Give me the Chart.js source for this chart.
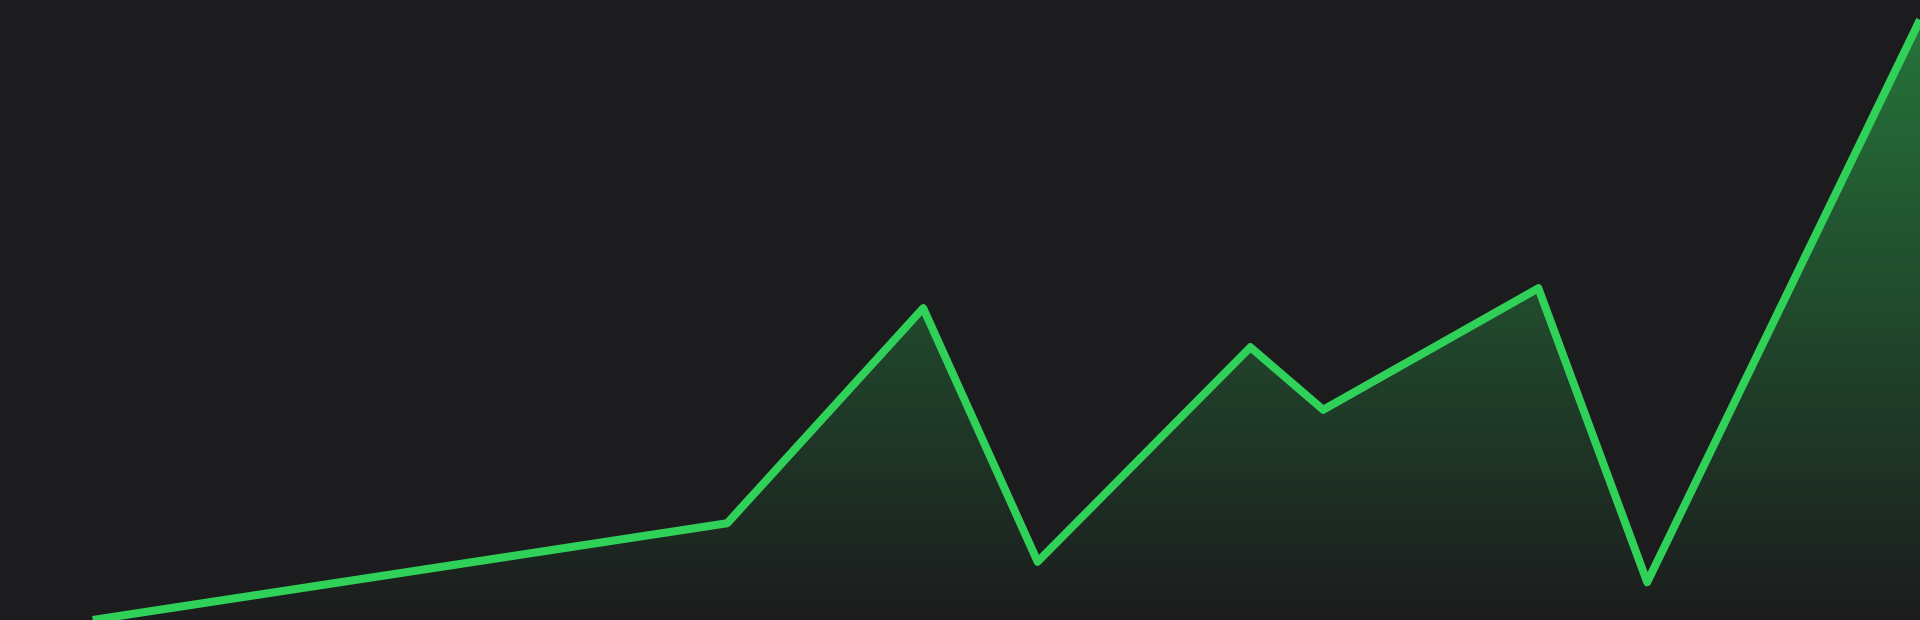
<!DOCTYPE html>
<html>
<head>
<meta charset="utf-8">
<title>Chart</title>
<script src="https://cdn.jsdelivr.net/npm/chart.js@4/dist/chart.umd.min.js"></script>
<style>
  html, body {
    margin: 0;
    padding: 0;
    background: #1c1c1e;
    overflow: hidden;
  }
  #chart-wrap {
    width: 1920px;
    height: 620px;
  }
</style>
</head>
<body>
<div id="chart-wrap">
  <canvas id="line-graph" width="1920" height="620"></canvas>
</div>
<script>
// Время измерений (часы) и значения
const times = [1.16, 9.09, 11.54, 12.97, 15.63, 16.54, 19.23, 20.59, 24];
const values = [0, 15.6, 50.3, 9.4, 44.0, 33.9, 53.5, 6.1, 96.8];

// Границы осей
const X_MIN = 0;
const X_MAX = 24;
const Y_MIN = 0;
const Y_MAX = 100;

const LINE_COLOR = "#30d158";

// Градиент заливки под линией
function makeGradient(context) {
  const chart = context.chart;
  const area = chart.chartArea;
  if (!area) {
    return "rgba(48, 209, 88, 0.3)";
  }
  const gradient = chart.ctx.createLinearGradient(0, area.top, 0, area.bottom);
  gradient.addColorStop(0, "rgba(48, 209, 88, 0.5)");
  gradient.addColorStop(1, "rgba(48, 209, 88, 0)");
  return gradient;
}

window.addEventListener("load", function () {
  const ctx = document.getElementById("line-graph").getContext("2d");
  const points = times.map((t, i) => ({ x: t, y: values[i] }));

  new Chart(ctx, {
    type: "line",
    data: {
      datasets: [
        {
          data: points,
          borderColor: LINE_COLOR,
          borderWidth: 8,
          borderJoinStyle: "round",
          backgroundColor: makeGradient,
          fill: "start",
          pointRadius: 0,
          tension: 0,
        },
      ],
    },
    options: {
      responsive: false,
      animation: false,
      devicePixelRatio: 1,
      layout: { padding: 0 },
      plugins: {
        legend: { display: false },
        tooltip: { enabled: false },
      },
      scales: {
        x: { type: "linear", min: X_MIN, max: X_MAX, display: false },
        y: { min: Y_MIN, max: Y_MAX, display: false },
      },
    },
  });
});
</script>
</body>
</html>
